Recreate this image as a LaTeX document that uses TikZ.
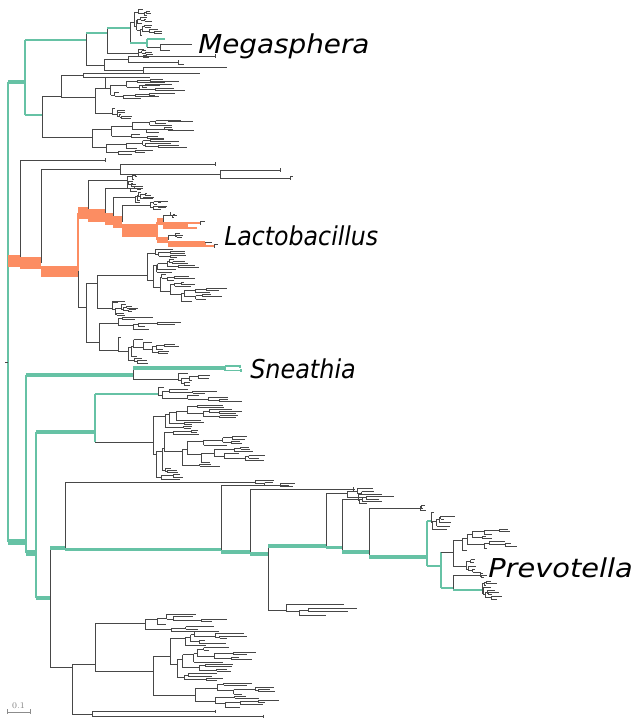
\documentclass[tikz,border=0pt]{standalone}
\usepackage{fontspec}
\newfontfamily\labfont{DejaVu Sans}
\definecolor{tealc}{HTML}{66C2A5}
\definecolor{orangec}{HTML}{FC8D62}
\tikzset{
  br/.style={draw=black!72,line width=0.5pt},
  tl/.style={draw=tealc,line width=0.8pt},
  tk/.style={draw=tealc,line width=#1},
  ork/.style={draw=orangec,line width=#1},
  ol/.style={draw=orangec,line width=0.8pt},
  lab/.style={font=\labfont\itshape\fontsize{19.5}{20}\selectfont,inner sep=0pt,anchor=base west},
}
% random subtree: x, y1, y2, ntips, internal scale, tip scale
\def\rgobble#1#2#3#4#5#6{}
\def\rclade#1#2#3#4#5#6{\ifnum#4>1 \expandafter\rcladeA\else\expandafter\rgobble\fi{#1}{#2}{#3}{#4}{#5}{#6}}
\def\rcladeA#1#2#3#4#5#6{%
  \begingroup
  \pgfmathtruncatemacro\rna{min(#4-1,1+int(rnd*(#4-1)))}%
  \pgfmathtruncatemacro\rnb{#4-\rna}%
  \pgfmathsetmacro\rys{#2+(#3-#2)*\rna/#4}%
  \pgfmathsetmacro\rma{(#2+\rys)/2}%
  \pgfmathsetmacro\rmb{(\rys+#3)/2}%
  \ifnum\rna=1 \pgfmathsetmacro\rxa{#1+#6*(0.15+0.85*rnd)}\else\pgfmathsetmacro\rxa{#1+#5*(0.1+0.9*rnd)}\fi
  \ifnum\rnb=1 \pgfmathsetmacro\rxb{#1+#6*(0.15+0.85*rnd)}\else\pgfmathsetmacro\rxb{#1+#5*(0.1+0.9*rnd)}\fi
  \draw[br] (#1,\rma) -- (#1,\rmb) (#1,\rma) -- (\rxa,\rma) (#1,\rmb) -- (\rxb,\rmb);
  \edef\rnext{\noexpand\rclade{\rxa}{#2}{\rys}{\rna}{#5}{#6}\noexpand\rclade{\rxb}{\rys}{#3}{\rnb}{#5}{#6}}%
  \expandafter\endgroup\rnext}
% stem from parent x to subtree root, then subtree
\newcommand\subc[7]{\pgfmathsetmacro\sym{(#3+#4)/2}\draw[br] (#1,\sym) -- (#2,\sym);\rclade{#2}{#3}{#4}{#5}{#6}{#7}}
\begin{document}
\begin{tikzpicture}[x=0.75pt,y=-0.75pt]
\useasboundingbox (0,0) rectangle (635,718);
\fill[white] (0,0) rectangle (635,718);
\pgfmathsetseed{4242}
% ---------- backbone coordinates ----------
\coordinate (R) at (8,362);
\coordinate (A) at (25,82);
\coordinate (B) at (20,261);
\coordinate (C) at (26,542);
% root
\draw[tl] (R|-A) -- (R|-C);
\draw[br] (5,362) -- (R);
\draw[tk=3.6pt] (R|-A) -- (A);
\draw[ork=9pt] (R|-B) -- (B);
\draw[tk=5pt] (R|-C) -- (C);

% ================= clade A (Megasphera) =================
\coordinate (A1) at (86,40);
\coordinate (A11) at (107,33);
\coordinate (A111) at (130,28);
\coordinate (A1112) at (147,43);
\coordinate (A2) at (42,115);
\draw[tl] (A|-A1) -- (A|-A2);
\draw[tk=2.2pt] (A|-A1) -- (A1);
\draw[br] (86,33) -- (86,65);
\draw[tk=2.2pt] (A1|-A11) -- (A11);
\draw[br] (107,28) -- (107,53);
\draw[tk=2.2pt] (A11|-A111) -- (A111);
\draw[br] (130,22) -- (130,43);
\subc{130}{134}{8}{36}{14}{7}{10}
\draw[tl] (A111|-A1112) -- (A1112);
\draw[tl] (147,39) -- (147,47) (147,39) -- (165,39);
\draw[br] (147,47) -- (160,47);
\draw[br] (160,44) -- (160,50) (160,44) -- (192,44) (160,50) -- (170,50);
\subc{107}{138}{48}{58}{6}{5}{10}
% long tips under A1
\draw[br] (86,65) -- (104,65) (104,59) -- (104,70);
\draw[br] (104,59) -- (128,59) (128,56) -- (128,62) (128,56) -- (215,56) (128,62) -- (178,62);
\draw[br] (104,70) -- (143,70) (143,67) -- (143,73) (143,67) -- (227,67) (143,73) -- (200,73);
\draw[br] (178,60) -- (178,64) (178,64) -- (184,64) (215,54)--(215,58);
% lower part of A
\draw[tk=2.2pt] (A|-A2) -- (A2);
\draw[br] (42,96) -- (42,137);
\draw[br] (42,96) -- (61,96) (61,75) -- (61,97);
\draw[br] (61,75) -- (83,75) (83,73) -- (83,77) (83,73) -- (160,73) (83,77) -- (150,77);
\draw[br] (61,97) -- (95,97) (95,88) -- (95,113);
\subc{95}{105}{77}{99}{14}{20}{30}
\subc{95}{112}{107}{119}{6}{6}{12}
\subc{42}{92}{119}{155}{20}{21}{30}

% ================= clade B (Lactobacillus) =================
\coordinate (B2) at (41,263);
\coordinate (B21) at (120,169);
\coordinate (B22) at (78,271.5);
\coordinate (B221) at (88,213);
\coordinate (B2212) at (105,215.5);
\coordinate (B22122) at (113,219);
\coordinate (B221222) at (122,222);
\coordinate (B2212222) at (157,230.5);
\coordinate (X1) at (163,221.5);
\coordinate (X11) at (187,225.5);
\coordinate (X2) at (168,240);
\coordinate (X21) at (205,244);
\coordinate (B222) at (86,307);
\coordinate (B2221) at (97,283);
\coordinate (B2222) at (99,342);
\draw[br] (20,160) -- (B);
\draw[br] (20,160) -- (105,160) (105,158) -- (105,162);
\draw[br] (41,169) -- (B2);
\draw[ork=9pt] (B|-B2) -- (B2);
\draw[br] (B2|-B21) -- (B21);
\draw[br] (120,164) -- (120,174);
\draw[br] (120,164) -- (215,164) (215,162) -- (215,166);
\draw[br] (120,174) -- (220,174) (220,170) -- (220,178) (220,170) -- (280,170) (220,178) -- (290,178);
\draw[br] (280,168) -- (280,172) (290,176) -- (290,180) (290,176) -- (293,176);
\draw[ork=8.3pt] (B2|-B22) -- (B22);
\draw[ol] (78,213) -- (78,271);
\draw[br] (78,271) -- (78,307);
\draw[br] (88,180) -- (B221);
\draw[ork=9pt] (B22|-B221) -- (B221);
\subc{88}{127}{173}{187}{6}{5}{10}
\draw[br] (105,188) -- (B2212);
\draw[ork=9.7pt] (B221|-B2212) -- (B2212);
\subc{105}{127}{184}{192}{5}{5}{10}
\draw[br] (113,197) -- (B22122);
\draw[ork=9pt] (B2212|-B22122) -- (B22122);
\subc{113}{135}{191}{203}{7}{7}{12}
\draw[br] (122,205) -- (B221222);
\draw[ork=9pt] (B22122|-B221222) -- (B221222);
\subc{122}{150}{200}{210}{6}{5}{10}
\draw[ork=9.7pt] (B221222|-B2212222) -- (B2212222);
\draw[ol] (157,221.5) -- (157,240);
\draw[br] (163,215) -- (X1);
\draw[ork=5.2pt] (B2212222|-X1) -- (X1);
\subc{163}{170}{212}{218}{4}{4}{7}
\draw[ork=5.2pt] (X1|-X11) -- (X11);
\draw[ol] (187,223) -- (187,228) (187,223) -- (200,223) (187,228) -- (197,228);
\draw[br] (200,221) -- (200,225) (200,221) -- (205,221);
\draw[br] (168,235) -- (X2);
\draw[ork=4.5pt] (B2212222|-X2) -- (X2);
\subc{168}{175}{232}{238}{3}{4}{8}
\draw[ork=4.5pt] (X2|-X21) -- (X21);
\draw[ol] (205,242) -- (205,246) (205,246) -- (214,246);
\draw[br] (205,242) -- (212,242) (214,244) -- (214,248) (214,244) -- (218,244);
% lower Lactobacillales part
\draw[br] (B22|-B222) -- (B222);
\draw[br] (86,283) -- (86,342);
\draw[br] (B222|-B2221) -- (B2221);
\draw[br] (97,275) -- (97,308);
\subc{97}{147}{248}{302}{26}{12}{22}
\subc{97}{112}{300}{316}{9}{6}{12}
\draw[br] (B222|-B2222) -- (B2222);
\draw[br] (99,323) -- (99,350);
\subc{99}{118}{316}{330}{6}{26}{34}
\subc{99}{118}{336}{364}{12}{12}{16}

% ================= clade C (Sneathia, Prevotella, ...) =================
\coordinate (C1) at (133,375);
\coordinate (C11) at (225,368);
\coordinate (C2) at (36,553);
\coordinate (C21) at (95,432);
\coordinate (C211) at (158,394);
\coordinate (C212) at (153,442);
\coordinate (C22) at (50,598);
\coordinate (C221) at (65,548);
\coordinate (C2212) at (221,549.5);
\coordinate (C22122) at (250,552);
\coordinate (C221222) at (268,554);
\coordinate (C2212221) at (326,546);
\coordinate (C22122212) at (342,547.5);
\coordinate (C3) at (369,552);
\coordinate (P) at (427,557);
\coordinate (P1) at (431,521);
\coordinate (P2) at (441,566);
\coordinate (P21) at (453,552);
\coordinate (P22) at (453,588);
\coordinate (P222) at (482,590);
\coordinate (D) at (72,667);
\coordinate (D1) at (95,664);
\coordinate (D12) at (153,671);
\coordinate (D2) at (92,714);
\draw[tl] (C|-C1) -- (C|-C2);
% Sneathia
\draw[tk=2.4pt] (C|-C1) -- (C1);
\draw[br] (133,368) -- (133,379);
\draw[tk=3pt] (C1|-C11) -- (C11);
\draw[tl] (225,366) -- (225,370.5) (225,366) -- (240,366) (225,370.5) -- (241,370.5);
\draw[tl] (240,364.5) -- (240,367.5) (241,369) -- (241,372);
\subc{133}{178}{372}{386}{6}{10}{14}
% C2
\draw[tk=4.5pt] (C|-C2) -- (C2);
\draw[tl] (C2|-C21) -- (C2|-C22);
\draw[tk=2.4pt] (C2|-C21) -- (C21);
\draw[tl] (95,394) -- (95,442);
\draw[tl] (C21|-C211) -- (C211);
\rclade{158}{386}{402}{8}{26}{30}
\draw[br] (C21|-C212) -- (C212);
\rclade{153}{404}{480}{36}{21}{28}
\draw[tk=2.4pt] (C2|-C22) -- (C22);
\draw[br] (50,548) -- (50,667);
\draw[tk=2.4pt] (C22|-C221) -- (C221);
\draw[br] (65,482) -- (65,549);
\draw[br] (65,482) -- (255,482);
\rclade{255}{479}{486}{3}{10}{25}
\draw[tk=2.4pt] (C221|-C2212) -- (C2212);
\draw[br] (221,485) -- (221,552);
\draw[br] (221,485) -- (280,485) (280,483.5) -- (280,486.5) (280,483.5) -- (295,483.5) (280,486.5) -- (293,486.5);
\draw[tk=2.4pt] (C2212|-C22122) -- (C22122);
\draw[br] (250,489) -- (250,554);
\draw[br] (250,489) -- (353,489);
\rclade{353}{486}{492}{3}{2}{5}
\draw[tk=2.4pt] (C22122|-C221222) -- (C221222);
\draw[br] (268,546) -- (268,610);
\draw[br] (268,610) -- (286,610);
\rclade{286}{603}{617}{4}{16}{60}
\draw[tk=2.4pt] (C221222|-C2212221) -- (C2212221);
\draw[br] (326,493) -- (326,546);
\subc{326}{347}{487}{499}{4}{12}{25}
\draw[tk=2.4pt] (C2212221|-C22122212) -- (C22122212);
\draw[br] (342,499) -- (342,552);
\subc{342}{358}{493}{505}{5}{14}{28}
\draw[tk=2.4pt] (C22122212|-C3) -- (C3);
\draw[br] (369,508) -- (369,557);
\draw[br] (369,508) -- (420,508);
\rclade{420}{504}{512}{3}{2}{6}
% Prevotella
\draw[tk=2.8pt] (C3|-P) -- (P);
\draw[tl] (427,521) -- (427,566);
\draw[tl] (P|-P1) -- (P1);
\rclade{431}{511}{531}{6}{5}{15}
\draw[tl] (P|-P2) -- (P2);
\draw[tl] (441,552) -- (441,588);
\draw[br] (P2|-P21) -- (P21);
\draw[br] (453,540) -- (453,566);
\subc{453}{462}{528}{552}{10}{17}{16}
\subc{453}{466}{558}{574}{5}{5}{10}
\draw[tl] (P2|-P22) -- (P22);
\draw[br] (453,575) -- (453,590);
\subc{453}{480}{572}{578}{3}{3}{6}
\draw[tl] (P22|-P222) -- (P222);
\rclade{482}{580}{600}{9}{8}{12}
% bottom clade
\draw[br] (C22|-D) -- (D);
\draw[br] (72,664) -- (72,714);
\draw[br] (D|-D1) -- (D1);
\draw[br] (95,623) -- (95,671);
\subc{95}{145}{613}{633}{8}{30}{45}
\draw[br] (D1|-D12) -- (D12);
\draw[br] (153,656) -- (153,695);
\subc{153}{170}{630}{682}{22}{22}{30}
\subc{153}{195}{682}{708}{12}{24}{34}
\draw[br] (D|-D2) -- (D2);
\draw[br] (92,711) -- (92,716) (92,711) -- (215,711) (92,716) -- (263,716);
\draw[br] (215,709.5) -- (215,712.5) (263,714.5) -- (263,717.5);

% ---------- labels ----------
\node[lab] (lmeg) at (198,53) {\scalebox{1.07}[1]{Megasphera}};
\node[lab] (llac) at (224,245) {\scalebox{0.91}[1]{Lactobacillus}};
\node[lab] (lsne) at (250,378) {\scalebox{0.92}[1]{Sneathia}};
\node[lab] (lpre) at (488,577) {\scalebox{1.11}[1]{Prevotella}};
% ---------- scale bar ----------
\coordinate (sb1) at (7,712);
\coordinate (sb2) at (30,712);
\draw[draw=black!45,line width=0.5pt] (sb1) -- (sb2) (7,709) -- (7,714) (30,709) -- (30,714);
\node[text=black!50,font=\fontsize{6.5}{7}\selectfont,inner sep=0pt,anchor=base] (sbl) at (18.5,708) {0.1};
\end{tikzpicture}
\end{document}
